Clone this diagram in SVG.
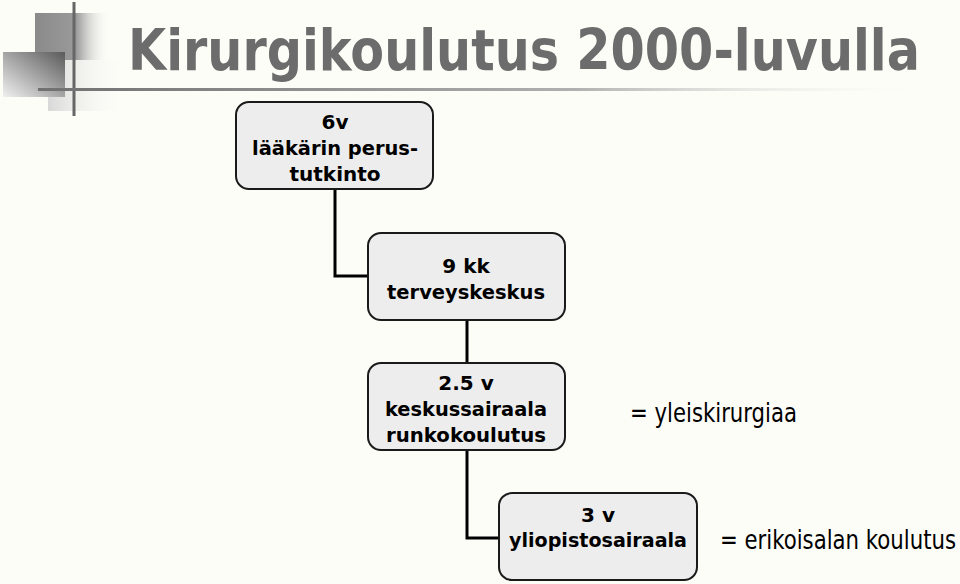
<svg xmlns="http://www.w3.org/2000/svg" width="960" height="584" viewBox="0 0 960 584">
<defs>
<style>
.box{fill:#ededed;stroke:#1a1a1a;stroke-width:2}
.bt{font-family:"DejaVu Sans",Verdana,sans-serif;font-weight:bold;font-size:20px;fill:#000;text-anchor:middle}
.rt{font-family:"DejaVu Sans Condensed","DejaVu Sans",sans-serif;font-size:27px;fill:#000}
.conn{fill:none;stroke:#000;stroke-width:3}
</style>
<linearGradient id="gA" x1="0" y1="0" x2="1" y2="0"><stop offset="0" stop-color="#8a8a8a"/><stop offset="0.55" stop-color="#9a9a9a"/><stop offset="1" stop-color="#fdfdf8" stop-opacity="0"/></linearGradient>
<linearGradient id="gB" x1="1" y1="0" x2="0" y2="1"><stop offset="0" stop-color="#5a5a5a"/><stop offset="1" stop-color="#f0f0f0"/></linearGradient>
<linearGradient id="gC" x1="0" y1="0" x2="1" y2="0"><stop offset="0" stop-color="#d8d8d8"/><stop offset="1" stop-color="#fdfdf8" stop-opacity="0"/></linearGradient>
<linearGradient id="gL" x1="0" y1="0" x2="1" y2="0"><stop offset="0" stop-color="#707070"/><stop offset="0.6" stop-color="#b0b0b0"/><stop offset="1" stop-color="#fdfdf8" stop-opacity="0"/></linearGradient>
</defs>
<rect width="960" height="584" fill="#fdfdf8"/>
<g id="logo">
<rect x="48" y="60" width="80" height="51" fill="url(#gC)"/>
<rect x="35" y="13" width="75" height="47" fill="url(#gA)"/>
<rect x="3" y="52" width="62" height="45" fill="url(#gB)"/>
<rect x="72.5" y="2" width="3" height="114" fill="#666"/>
<rect x="38" y="88" width="895" height="3" fill="url(#gL)"/>
</g>
<text x="128" y="70" font-family="'DejaVu Sans',Tahoma,sans-serif" font-weight="bold" font-size="57" fill="#6c6c6c" textLength="792" lengthAdjust="spacingAndGlyphs">Kirurgikoulutus 2000-luvulla</text>
<g id="connectors">
<path class="conn" d="M335 189 V276 H368"/>
<path class="conn" d="M467 320 V363"/>
<path class="conn" d="M467 450 V538 H499"/>
</g>
<g id="n1">
<rect class="box" x="236" y="102" width="197" height="87" rx="13"/>
<text class="bt" x="335" y="129">6v</text>
<text class="bt" x="335" y="155" textLength="166" lengthAdjust="spacingAndGlyphs">lääkärin perus-</text>
<text class="bt" x="335" y="181">tutkinto</text>
</g>
<g id="n2">
<rect class="box" x="368" y="233" width="197" height="87" rx="13"/>
<text class="bt" x="466" y="273">9 kk</text>
<text class="bt" x="466" y="299" textLength="158" lengthAdjust="spacingAndGlyphs">terveyskeskus</text>
</g>
<g id="n3">
<rect class="box" x="368" y="363" width="197" height="87" rx="13"/>
<text class="bt" x="466" y="390">2.5 v</text>
<text class="bt" x="466" y="416" textLength="162" lengthAdjust="spacingAndGlyphs">keskussairaala</text>
<text class="bt" x="466" y="442" textLength="160" lengthAdjust="spacingAndGlyphs">runkokoulutus</text>
</g>
<g id="n4">
<rect class="box" x="499" y="493" width="198" height="87" rx="13"/>
<text class="bt" x="598" y="522">3 v</text>
<text class="bt" x="598" y="547" textLength="178" lengthAdjust="spacingAndGlyphs">yliopistosairaala</text>
</g>
<text class="rt" x="630" y="422" textLength="167" lengthAdjust="spacingAndGlyphs">= yleiskirurgiaa</text>
<text class="rt" x="720" y="549" textLength="236" lengthAdjust="spacingAndGlyphs">= erikoisalan koulutus</text>
</svg>
